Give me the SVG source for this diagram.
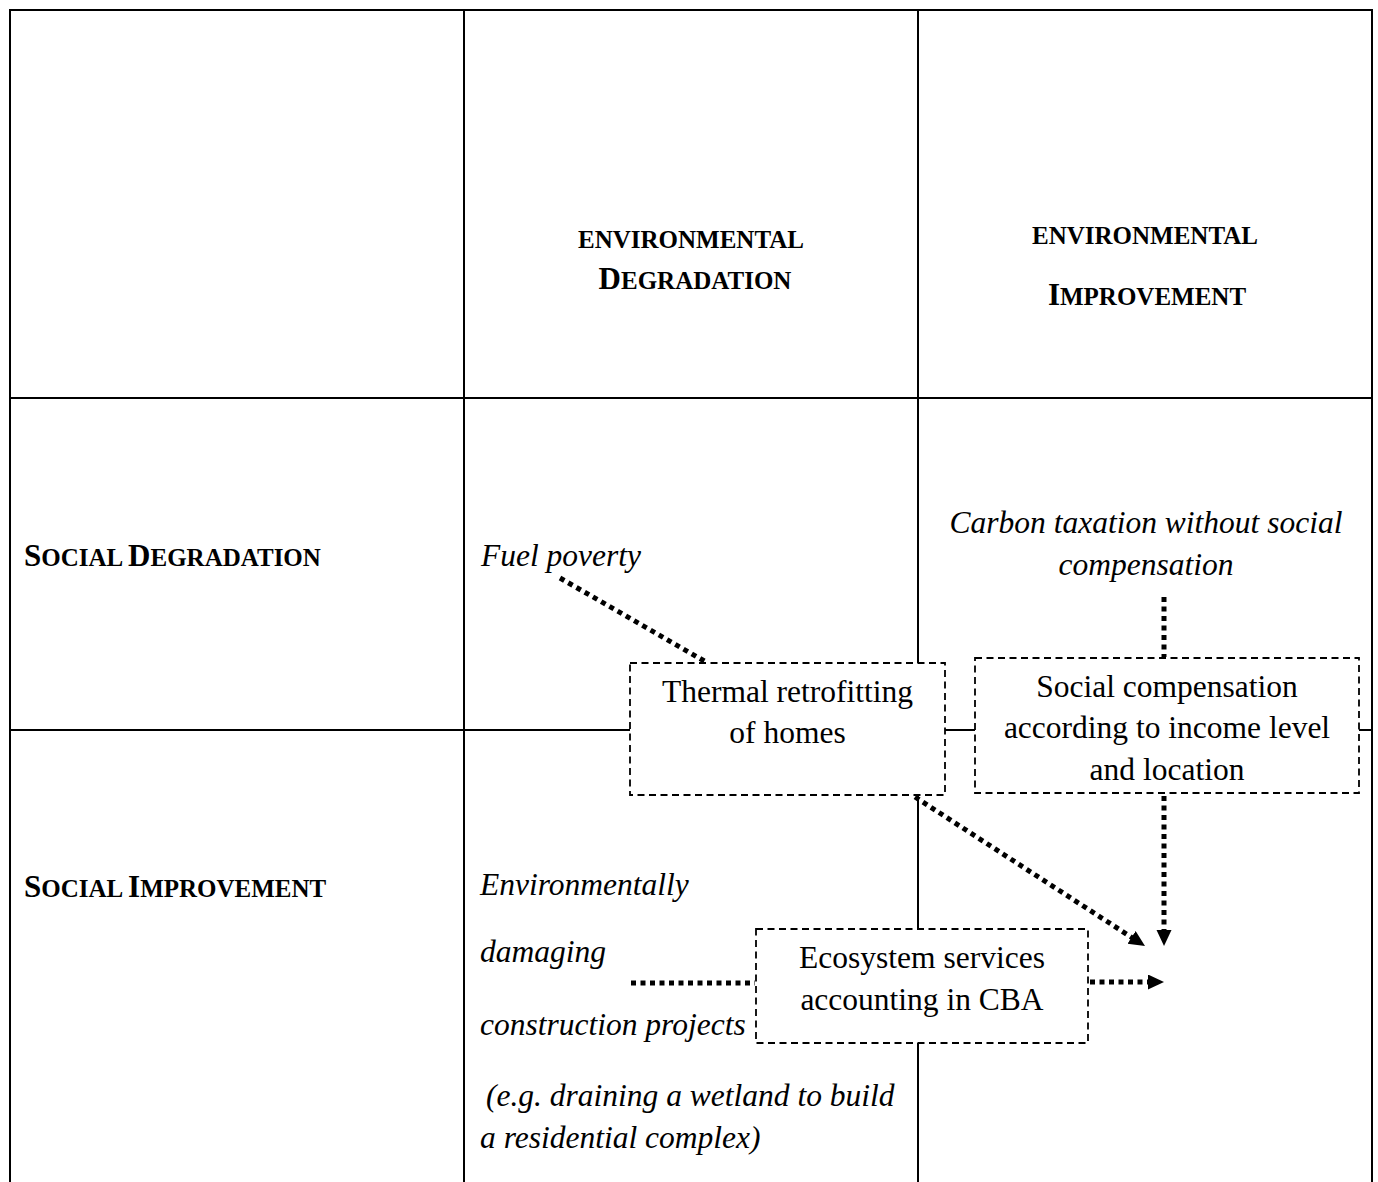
<svg xmlns="http://www.w3.org/2000/svg" width="1378" height="1182" viewBox="0 0 1378 1182">
<style>
.grid{stroke:#000;stroke-width:2;fill:none}
.box{fill:#fff;stroke:#000;stroke-width:1.8;stroke-dasharray:7 4.5}
.dot{stroke:#000;stroke-width:5;stroke-dasharray:5 4.5;fill:none}
text{font-family:"Liberation Serif","Times New Roman",serif;fill:#000}
.body{font-size:31.5px}
.it{font-style:italic}
.mid{text-anchor:middle}
.hd{font-weight:bold;font-size:31px}
.sc{font-size:25px}
</style>
<defs>
<marker id="ah" markerUnits="userSpaceOnUse" markerWidth="18" markerHeight="16" refX="6" refY="7.5" orient="auto">
<path d="M0,0 L16,7.5 L0,15 z" fill="#000"/>
</marker>
</defs>
<rect width="1378" height="1182" fill="#fff"/>
<g id="grid" class="grid">
<line x1="10" y1="10" x2="1372" y2="10"/>
<line x1="10" y1="9" x2="10" y2="1182"/>
<line x1="1372" y1="9" x2="1372" y2="1182"/>
<line x1="464" y1="10" x2="464" y2="1182"/>
<line x1="918" y1="10" x2="918" y2="1182"/>
<line x1="10" y1="398" x2="1372" y2="398"/>
<line x1="10" y1="730" x2="1372" y2="730"/>
</g>
<g id="col-env-degradation">
<text class="hd mid" x="691" y="248"><tspan class="sc">ENVIRONMENTAL</tspan></text>
<text class="hd mid" x="695" y="289">D<tspan class="sc">EGRADATION</tspan></text>
</g>
<g id="col-env-improvement">
<text class="hd mid" x="1145" y="244"><tspan class="sc">ENVIRONMENTAL</tspan></text>
<text class="hd mid" x="1147" y="305">I<tspan class="sc">MPROVEMENT</tspan></text>
</g>
<g id="row-social-degradation">
<text class="hd" x="24" y="566">S<tspan class="sc">OCIAL </tspan>D<tspan class="sc">EGRADATION</tspan></text>
</g>
<g id="row-social-improvement">
<text class="hd" x="24" y="897">S<tspan class="sc">OCIAL </tspan>I<tspan class="sc">MPROVEMENT</tspan></text>
</g>
<g id="fuel-poverty">
<text class="body it" x="481" y="566">Fuel poverty</text>
</g>
<g id="carbon-taxation">
<text class="body it mid" x="1146" y="533">Carbon taxation without social</text>
<text class="body it mid" x="1146" y="575">compensation</text>
</g>
<g id="damaging-projects">
<text class="body it" x="480" y="895">Environmentally</text>
<text class="body it" x="480" y="962">damaging</text>
<text class="body it" x="480" y="1035">construction projects</text>
<text class="body it" x="486" y="1106">(e.g. draining a wetland to build</text>
<text class="body it" x="480" y="1148">a residential complex)</text>
</g>
<g id="connectors">
<line class="dot" x1="560" y1="578" x2="706" y2="662"/>
<line class="dot" x1="915" y1="797" x2="1136.6" y2="940.6" marker-end="url(#ah)"/>
<line class="dot" x1="1164" y1="597" x2="1164" y2="657"/>
<line class="dot" x1="1164" y1="796" x2="1164" y2="936" marker-end="url(#ah)"/>
<line class="dot" x1="631" y1="983" x2="755" y2="983"/>
<line class="dot" x1="1090" y1="982" x2="1154" y2="982" marker-end="url(#ah)"/>
</g>
<g id="thermal-retrofitting">
<rect class="box" x="630" y="663" width="315" height="132"/>
<text class="body mid" x="787.5" y="702">Thermal retrofitting</text>
<text class="body mid" x="787.5" y="743">of homes</text>
</g>
<g id="social-compensation">
<rect class="box" x="975" y="658" width="384" height="135"/>
<text class="body mid" x="1167" y="697">Social compensation</text>
<text class="body mid" x="1167" y="738">according to income level</text>
<text class="body mid" x="1167" y="780">and location</text>
</g>
<g id="ecosystem-services">
<rect class="box" x="756" y="929" width="332" height="114"/>
<text class="body mid" x="922" y="968">Ecosystem services</text>
<text class="body mid" x="922" y="1010">accounting in CBA</text>
</g>
</svg>
